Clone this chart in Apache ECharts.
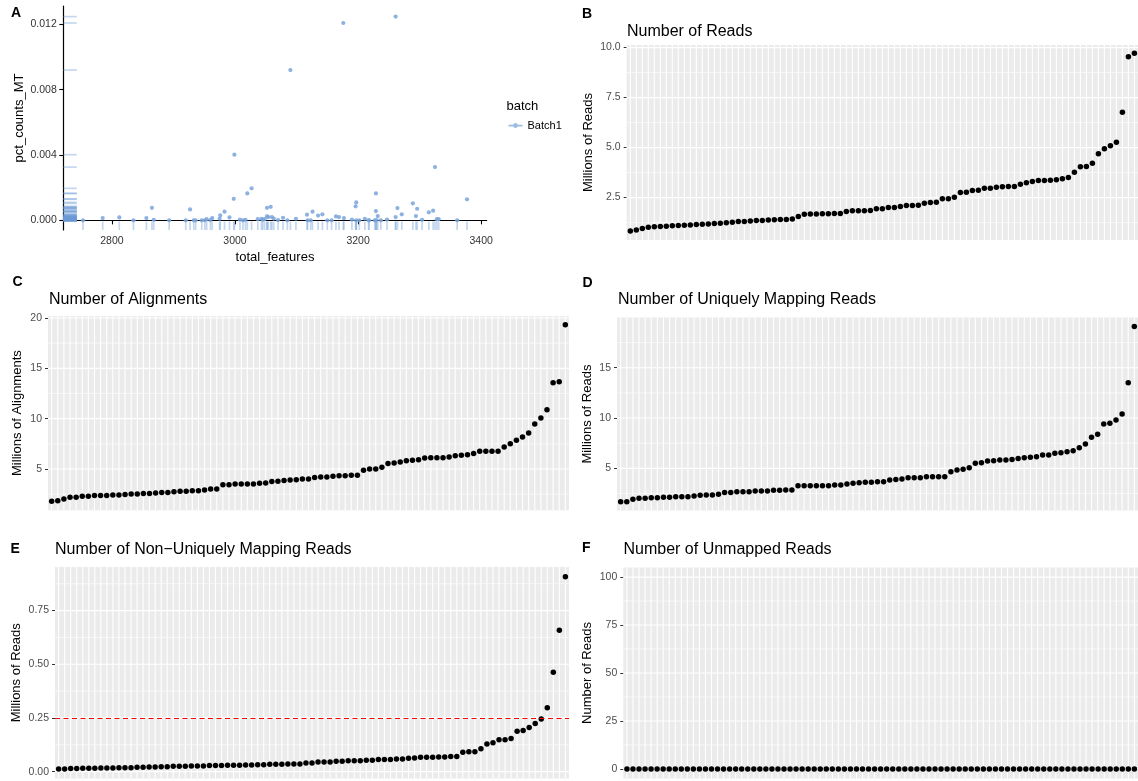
<!DOCTYPE html>
<html>
<head>
<meta charset="utf-8">
<title>Cell QC overview</title>
<script src="https://cdn.jsdelivr.net/npm/echarts@6/dist/echarts.min.js"></script>
<style>
  html, body { margin: 0; padding: 0; background: #ffffff; }
  #chart { width: 1138px; height: 781px; }
</style>
</head>
<body>
<div id="chart"></div>
<script>
const FONT = '"Liberation Sans", Arial, Helvetica, sans-serif';

// ---- Panel A: mitochondrial fraction vs detected features (one point per cell) ----
const totalFeatures = [
  2753, 2785, 2812, 2835, 2856, 2865, 2868, 2893, 2920, 2927,
  2933, 2936, 2946, 2951, 2954, 2960, 2963, 2975, 2976, 2983,
  2991, 2998, 2999, 3008, 3013, 3017, 3020, 3027, 3037, 3043,
  3048, 3052, 3052, 3054, 3058, 3060, 3070, 3078, 3085, 3090,
  3099, 3117, 3118, 3123, 3126, 3135, 3142, 3150, 3157, 3164,
  3169, 3176, 3177, 3190, 3196, 3197, 3197, 3202, 3211, 3217,
  3218, 3227, 3229, 3229, 3232, 3237, 3247, 3261, 3261, 3264,
  3271, 3289, 3294, 3296, 3304, 3315, 3322, 3325, 3328, 3331,
  3361, 3377, 3045, 3063, 3230
];
const pctCountsMT = [
  0, 0.00014, 0.00018, 0, 0.00014, 0.00077, 0.00003, 0, 0, 0.00067,
  0, 0, 0, 0, 0.00008, 0.00002, 0.00014, 0.0001, 0.0003, 0.00053,
  0.00018, 0.00132, 0.00402, 0.00005, 0, 0.00003, 0.00165, 0.00196, 0.00007, 0.0001,
  0.00007, 0.00024, 0.00077, 0.0002, 0.00083, 0.0002, 0.00002, 0.00016, 0, 0.0092,
  0.0001, 0.00035, 0, 0, 0.00053, 0.00029, 0.00037, 0, 0, 0.00024,
  0.0002, 0.01208, 0.00014, 0.00005, 0.00086, 0.0011, 0, 0, 0.0001, 0,
  0, 0, 0.00165, 0.00057, 0.00026, 0, 0.00005, 0.0002, 0.01247, 0.00075,
  0.00037, 0.00104, 0.00026, 0.00071, 0.00003, 0.00049, 0.00059, 0.00326, 0.00007, 0.00007,
  0, 0.00129, 0.00003, 0.00011, 0.00002
];
const featureTicks = [2800, 3000, 3200, 3400];
const mtTicks = [0, 0.004, 0.008, 0.012];
const batchName = 'Batch1';

// ---- Panels B-F: per-cell mapping statistics, each sorted ascending ----
const numReads = [
  0.83, 0.88, 0.95, 1.02, 1.04, 1.06, 1.07, 1.09, 1.10, 1.12,
  1.13, 1.15, 1.17, 1.18, 1.20, 1.22, 1.24, 1.27, 1.30, 1.31,
  1.33, 1.35, 1.36, 1.38, 1.39, 1.40, 1.41, 1.43, 1.55, 1.67,
  1.68, 1.68, 1.69, 1.69, 1.70, 1.71, 1.80, 1.84, 1.84, 1.84,
  1.85, 1.94, 1.94, 2.00, 2.00, 2.05, 2.10, 2.10, 2.12, 2.22,
  2.25, 2.27, 2.44, 2.44, 2.52, 2.75, 2.77, 2.85, 2.87, 2.97,
  2.97, 3.02, 3.04, 3.05, 3.05, 3.17, 3.24, 3.30, 3.35, 3.35,
  3.37, 3.39, 3.44, 3.50, 3.77, 4.04, 4.05, 4.22, 4.69, 4.94,
  5.09, 5.27, 6.77, 9.54, 9.72
];
const numAlignments = [
  1.79, 1.86, 2.03, 2.19, 2.19, 2.29, 2.29, 2.36, 2.36, 2.36,
  2.42, 2.42, 2.46, 2.52, 2.52, 2.58, 2.58, 2.62, 2.68, 2.68,
  2.75, 2.78, 2.78, 2.85, 2.85, 2.92, 3.02, 3.02, 3.45, 3.45,
  3.52, 3.52, 3.52, 3.52, 3.58, 3.62, 3.75, 3.78, 3.85, 3.90,
  3.93, 4.01, 4.01, 4.15, 4.21, 4.21, 4.28, 4.34, 4.34, 4.38,
  4.38, 4.87, 5.01, 5.01, 5.17, 5.54, 5.60, 5.70, 5.83, 5.87,
  5.93, 6.10, 6.13, 6.13, 6.13, 6.20, 6.33, 6.36, 6.43, 6.53,
  6.76, 6.76, 6.76, 6.76, 7.19, 7.52, 7.85, 8.19, 8.59, 9.48,
  10.08, 10.90, 13.56, 13.66, 19.32
];
const uniqueReads = [
  1.68, 1.68, 1.92, 2.02, 2.02, 2.08, 2.08, 2.12, 2.12, 2.18,
  2.18, 2.18, 2.25, 2.32, 2.35, 2.35, 2.42, 2.61, 2.61, 2.67,
  2.67, 2.67, 2.74, 2.74, 2.74, 2.81, 2.81, 2.84, 2.84, 3.27,
  3.27, 3.27, 3.27, 3.27, 3.27, 3.34, 3.34, 3.44, 3.51, 3.57,
  3.61, 3.61, 3.67, 3.67, 3.84, 3.90, 3.94, 4.07, 4.07, 4.07,
  4.17, 4.17, 4.17, 4.17, 4.66, 4.83, 4.90, 5.06, 5.50, 5.56,
  5.73, 5.76, 5.83, 5.83, 5.89, 5.99, 6.05, 6.09, 6.15, 6.32,
  6.32, 6.49, 6.55, 6.65, 6.75, 7.05, 7.42, 8.08, 8.38, 9.40,
  9.47, 9.80, 10.40, 13.51, 19.10
];
const nonUniqueReads = [
  0.0124, 0.0124, 0.014, 0.014, 0.0155, 0.0155, 0.0155, 0.017, 0.017, 0.017,
  0.0186, 0.0186, 0.0186, 0.020, 0.020, 0.0217, 0.0217, 0.023, 0.023, 0.0248,
  0.0248, 0.0248, 0.026, 0.026, 0.026, 0.028, 0.028, 0.028, 0.0295, 0.0295,
  0.0295, 0.031, 0.031, 0.0326, 0.0326, 0.034, 0.034, 0.034, 0.0357, 0.036,
  0.036, 0.040, 0.040, 0.045, 0.045, 0.045, 0.048, 0.048, 0.051, 0.051,
  0.051, 0.053, 0.053, 0.056, 0.056, 0.056, 0.059, 0.059, 0.062, 0.064,
  0.067, 0.067, 0.067, 0.068, 0.068, 0.070, 0.070, 0.090, 0.092, 0.092,
  0.107, 0.129, 0.134, 0.148, 0.149, 0.154, 0.188, 0.191, 0.206, 0.224,
  0.245, 0.297, 0.463, 0.658, 0.908
];
const unmappedReads = [
  0, 0, 0, 0, 0, 0, 0, 0, 0, 0,
  0, 0, 0, 0, 0, 0, 0, 0, 0, 0,
  0, 0, 0, 0, 0, 0, 0, 0, 0, 0,
  0, 0, 0, 0, 0, 0, 0, 0, 0, 0,
  0, 0, 0, 0, 0, 0, 0, 0, 0, 0,
  0, 0, 0, 0, 0, 0, 0, 0, 0, 0,
  0, 0, 0, 0, 0, 0, 0, 0, 0, 0,
  0, 0, 0, 0, 0, 0, 0, 0, 0, 0,
  0, 0, 0, 0, 0
];
const multiMapThreshold = 0.25;

const readsTicks = [2.5, 5.0, 7.5, 10.0];
const readsMinor = [1.25, 3.75, 6.25, 8.75];
const alignTicks = [5, 10, 15, 20];
const alignMinor = [2.5, 7.5, 12.5, 17.5];
const uniqueTicks = [5, 10, 15];
const uniqueMinor = [2.5, 7.5, 12.5, 17.5];
const nonUniqueTicks = [0.00, 0.25, 0.50, 0.75];
const nonUniqueMinor = [0.125, 0.375, 0.625, 0.875];
const unmappedTicks = [0, 25, 50, 75, 100];
const unmappedMinor = [12.5, 37.5, 62.5, 87.5];

// cells are placed at positions 1..n along a discrete axis
const cellPos = numReads.map((_, i) => i + 1);

// ---------------------------------------------------------------
const TICK_GREY = '#4D4D4D';
const panels = [
  { letter: 'B', title: 'Number of Reads', yName: 'Millions of Reads',
    values: numReads, ticks: readsTicks, minor: readsMinor, digits: 1,
    yMin: 0.38, yMax: 10.13, nameGap: 32,
    grid: { left: 626.7, top: 45, width: 514, height: 195 },
    titlePos: [627, 32.5], letterPos: [587, 15] },
  { letter: 'C', title: 'Number of Alignments', yName: 'Millions of Alignments',
    values: numAlignments, ticks: alignTicks, minor: alignMinor, digits: 0,
    yMin: 0.91, yMax: 20.2, nameGap: 24,
    grid: { left: 48, top: 316, width: 521, height: 194.2 },
    titlePos: [49, 300.5], letterPos: [17.5, 283] },
  { letter: 'D', title: 'Number of Uniquely Mapping Reads', yName: 'Millions of Reads',
    values: uniqueReads, ticks: uniqueTicks, minor: uniqueMinor, digits: 0,
    yMin: 0.80, yMax: 19.98, nameGap: 23,
    grid: { left: 617, top: 317.6, width: 522.5, height: 193 },
    titlePos: [618, 300.5], letterPos: [587.5, 284] },
  { letter: 'E', title: 'Number of Non\u2212Uniquely Mapping Reads', yName: 'Millions of Reads',
    values: nonUniqueReads, ticks: nonUniqueTicks, minor: nonUniqueMinor, digits: 2,
    yMin: -0.032, yMax: 0.953, nameGap: 32, threshold: multiMapThreshold,
    grid: { left: 55, top: 567, width: 514, height: 211.5 },
    titlePos: [55, 550.7], letterPos: [15.5, 550.5] },
  { letter: 'F', title: 'Number of Unmapped Reads', yName: 'Number of Reads',
    values: unmappedReads, ticks: unmappedTicks, minor: unmappedMinor, digits: 0,
    yMin: -5, yMax: 105, nameGap: 29,
    grid: { left: 623.3, top: 567.5, width: 516.5, height: 211 },
    titlePos: [623.5, 550.7], letterPos: [587, 549] }
];

// white grid lines drawn through the library's scales
function verticalGridLine(params, api) {
  const cs = params.coordSys;
  const x = api.coord([api.value(0), api.value(1)])[0];
  return { type: 'line', silent: true,
    shape: { x1: x, y1: cs.y, x2: x, y2: cs.y + cs.height },
    style: { stroke: '#FFFFFF', lineWidth: 1.1 } };
}
function horizontalGridLine(params, api) {
  const cs = params.coordSys;
  const y = api.coord([api.value(0), api.value(1)])[1];
  return { type: 'line', silent: true,
    shape: { x1: cs.x, y1: y, x2: cs.x + cs.width, y2: y },
    style: { stroke: '#FFFFFF', lineWidth: api.value(2) } };
}

// rug marks along the left and bottom edges of panel A
const RUG_COLOR = 'rgba(108, 155, 214, 0.4)';
function rugLeft(params, api) {
  const cs = params.coordSys;
  const y = api.coord([api.value(0), api.value(1)])[1];
  return { type: 'line', silent: true,
    shape: { x1: cs.x, y1: y, x2: cs.x + 13.5, y2: y },
    style: { stroke: RUG_COLOR, lineWidth: 1.7 } };
}
function rugBottom(params, api) {
  const cs = params.coordSys;
  const x = api.coord([api.value(0), api.value(1)])[0];
  const yb = cs.y + cs.height;
  return { type: 'line', silent: true,
    shape: { x1: x, y1: yb, x2: x, y2: yb - 8.5 },
    style: { stroke: RUG_COLOR, lineWidth: 1.7 } };
}

const grids = [];
const xAxes = [];
const yAxes = [];
const series = [];
const titles = [];

// ---- panel A ----
grids.push({ left: 63.3, top: 6, width: 423.4, height: 224, show: false });
xAxes.push({
  gridIndex: 0, type: 'value', min: 2721, max: 3409,
  name: 'total_features', nameLocation: 'middle', nameGap: 21,
  nameTextStyle: { fontFamily: FONT, fontSize: 13, color: '#000' },
  axisLine: { show: true, lineStyle: { color: '#000', width: 1.2 } },
  axisTick: { show: true, customValues: featureTicks, length: 4, lineStyle: { color: '#000', width: 1.1 } },
  axisLabel: { customValues: featureTicks, margin: 6, fontFamily: FONT, fontSize: 10.5, color: '#333',
    formatter: v => String(v) },
  splitLine: { show: false }
});
yAxes.push({
  gridIndex: 0, type: 'value', min: -0.00059, max: 0.01312,
  name: 'pct_counts_MT', nameLocation: 'middle', nameGap: 37,
  nameTextStyle: { fontFamily: FONT, fontSize: 13, color: '#000' },
  axisLine: { show: true, lineStyle: { color: '#000', width: 1.2 } },
  axisTick: { show: true, customValues: mtTicks, length: 4, lineStyle: { color: '#000', width: 1.1 } },
  axisLabel: { customValues: mtTicks, margin: 6.5, fontFamily: FONT, fontSize: 10.5, color: '#333',
    formatter: v => v.toFixed(3) },
  splitLine: { show: false }
});
const mtPairs = totalFeatures.map((x, i) => [x, pctCountsMT[i]]);
series.push({ type: 'custom', xAxisIndex: 0, yAxisIndex: 0, renderItem: rugLeft,
  data: mtPairs, encode: { x: 0, y: 1 }, silent: true, z: 1 });
series.push({ type: 'custom', xAxisIndex: 0, yAxisIndex: 0, renderItem: rugBottom,
  data: mtPairs, encode: { x: 0, y: 1 }, silent: true, z: 1 });
series.push({ name: batchName, type: 'scatter', xAxisIndex: 0, yAxisIndex: 0,
  data: mtPairs, symbolSize: 4.2, z: 3,
  itemStyle: { color: '#79A3DA', opacity: 0.85 } });
titles.push({ text: 'A', left: 11, top: 6, padding: 0,
  textStyle: { fontFamily: FONT, fontSize: 14, fontWeight: 'bold', color: '#000' } });
titles.push({ text: 'batch', left: 506.5, top: 100, padding: 0,
  textStyle: { fontFamily: FONT, fontSize: 13, fontWeight: 'normal', color: '#000' } });

// ---- panels B-F ----
panels.forEach((p, k) => {
  const gi = k + 1;
  grids.push(Object.assign({ show: true, backgroundColor: '#EBEBEB', borderWidth: 0 }, p.grid));
  xAxes.push({ gridIndex: gi, type: 'value', min: 0.4, max: cellPos.length + 0.6, show: false });
  yAxes.push({
    gridIndex: gi, type: 'value', min: p.yMin, max: p.yMax,
    name: p.yName, nameLocation: 'middle', nameGap: p.nameGap,
    nameTextStyle: { fontFamily: FONT, fontSize: 13, color: '#000' },
    axisLine: { show: false },
    axisTick: { show: true, customValues: p.ticks, length: 3, lineStyle: { color: '#333', width: 1 } },
    axisLabel: { customValues: p.ticks, margin: 6, fontFamily: FONT, fontSize: 10.5, color: TICK_GREY,
      formatter: v => v.toFixed(p.digits) },
    splitLine: { show: false }
  });
  series.push({ type: 'custom', xAxisIndex: gi, yAxisIndex: gi, renderItem: verticalGridLine,
    data: cellPos.map(c => [c, p.yMin]), encode: { x: 0, y: 1 }, silent: true, z: 1 });
  const hLines = p.minor.filter(v => v > p.yMin && v < p.yMax).map(v => [1, v, 0.6])
    .concat(p.ticks.filter(v => v > p.yMin && v < p.yMax).map(v => [1, v, 1.15]));
  const hSeries = { type: 'custom', xAxisIndex: gi, yAxisIndex: gi, renderItem: horizontalGridLine,
    data: hLines, encode: { x: 0, y: 1 }, silent: true, z: 1 };
  if (p.threshold !== undefined) {
    hSeries.markLine = { silent: true, symbol: 'none', label: { show: false }, animation: false,
      lineStyle: { color: '#FF0000', type: [5, 3.5], width: 1.2, opacity: 1 },
      data: [{ yAxis: p.threshold }] };
  }
  series.push(hSeries);
  series.push({ type: 'scatter', xAxisIndex: gi, yAxisIndex: gi,
    data: p.values.map((v, i) => [cellPos[i], v]), symbolSize: 5.5, z: 3,
    itemStyle: { color: '#000000', opacity: 1 } });
  titles.push({ text: p.title, left: p.titlePos[0], top: p.titlePos[1] - 9, padding: 0,
    textStyle: { fontFamily: FONT, fontSize: 16, fontWeight: 'normal', color: '#000' } });
  titles.push({ text: p.letter, left: p.letterPos[0] - 5, top: p.letterPos[1] - 8, padding: 0,
    textStyle: { fontFamily: FONT, fontSize: 14, fontWeight: 'bold', color: '#000' } });
});

const KEY_ICON = 'path://M0,4 L16,4 L16,6 L0,6 Z M10.8,5 C10.8,6.55 9.55,7.8 8,7.8 C6.45,7.8 5.2,6.55 5.2,5 C5.2,3.45 6.45,2.2 8,2.2 C9.55,2.2 10.8,3.45 10.8,5 Z';

const chart = echarts.init(document.getElementById('chart'), null, { renderer: 'canvas' });
chart.setOption({
  animation: false,
  backgroundColor: '#FFFFFF',
  textStyle: { fontFamily: FONT },
  title: titles,
  legend: {
    left: 508.5, top: 120, padding: 0, itemWidth: 14, itemHeight: 5, itemGap: 4,
    data: [{ name: batchName, icon: KEY_ICON, itemStyle: { color: '#8DB1E0' } }],
    textStyle: { fontFamily: FONT, fontSize: 11, color: '#000' },
    selectedMode: false
  },
  grid: grids,
  xAxis: xAxes,
  yAxis: yAxes,
  series: series
});
</script>
</body>
</html>
